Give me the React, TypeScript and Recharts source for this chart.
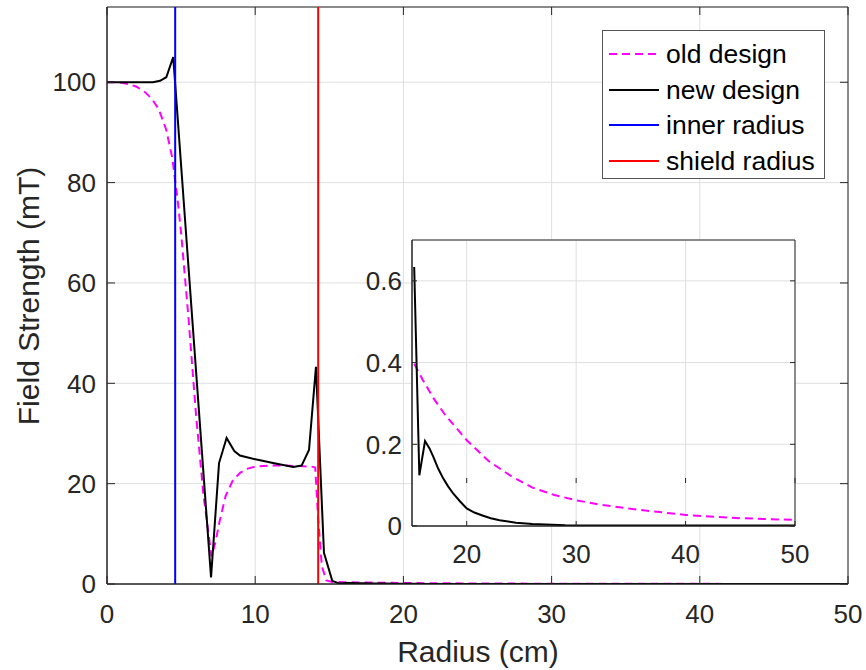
import React from 'react';
import { LineChart, Line, XAxis, YAxis, CartesianGrid, ReferenceArea } from 'recharts';

const FONT = '"Liberation Sans", Arial, Helvetica, sans-serif';
const TXT = '#262626';
const AX = '#262626';
const GRID = '#dfdfdf';

// old design (dashed magenta)
const oldX = [0, 0.5, 1, 1.5, 2, 2.5, 3, 3.5, 4, 4.4, 4.75, 5, 5.5, 6, 6.5, 7.05, 7.3, 7.6, 8, 8.5, 9, 9.5, 10, 11, 12, 13, 13.8, 14.05, 14.25, 14.5, 14.8, 15.2, 16, 17, 18, 20, 22, 24, 26, 28, 30, 32, 35, 40, 45, 50];
const oldY = [100, 100, 99.9, 99.6, 99.1, 98.2, 96.8, 94.6, 90.5, 85, 77, 70, 53, 34, 18, 5.5, 8.1, 12.5, 17.5, 20.7, 22.2, 23, 23.4, 23.6, 23.6, 23.5, 23.4, 23.2, 13, 3.5, 0.7, 0.397, 0.357, 0.311, 0.273, 0.21, 0.159, 0.123, 0.094, 0.076, 0.063, 0.053, 0.042, 0.027, 0.019, 0.015];

// new design (solid black)
const newX = [0, 0.5, 1, 1.5, 2, 2.5, 3.1, 3.58, 4, 4.47, 7.02, 7.56, 8.07, 8.59, 8.97, 10.1, 11.2, 12.57, 13.13, 13.63, 14.1, 14.64, 15.2, 15.67, 16.19, 16.6, 16.95, 17.4, 17.86, 18.3, 18.78, 19.4, 20, 20.7, 21.5, 22.2, 23, 24.5, 26, 29, 35, 50];
const newY = [100, 100, 100, 100, 100, 100, 100, 100.3, 101, 105, 1.3, 24.1, 29.1, 26.5, 25.6, 24.8, 24.1, 23.3, 23.6, 26.7, 43.3, 6.2, 0.634, 0.124, 0.208, 0.19, 0.169, 0.14, 0.116, 0.097, 0.079, 0.06, 0.043, 0.033, 0.025, 0.019, 0.014, 0.008, 0.005, 0.002, 0.001, 0.001];

const innerRadius = 4.6;
const shieldRadius = 14.25;
const yMax = 115;
const insetFrom = 15;

const xTicks = [0, 10, 20, 30, 40, 50];
const yTicks = [0, 20, 40, 60, 80, 100];
const insetXTicks = [20, 30, 40, 50];
const insetYTicks = [0, 0.2, 0.4, 0.6];

const legendLabels = ['old design', 'new design', 'inner radius', 'shield radius'];
const legendColors = ['#ff00ff', '#000000', '#0000ff', '#ff0000'];

const zip = (xs: number[], ys: number[]) => xs.map((x, i) => ({ x, y: ys[i] }));
const oldData = zip(oldX, oldY);
const newData = zip(newX, newY);
const innerData = [{ x: innerRadius, y: 0 }, { x: innerRadius, y: yMax }];
const shieldData = [{ x: shieldRadius, y: 0 }, { x: shieldRadius, y: yMax }];
// the inset only plots the samples beyond the shield
const oldTail = oldData.filter((d) => d.x >= insetFrom);
const newTail = newData.filter((d) => d.x >= insetFrom);

// MATLAB-style ticks pointing inward, on both sides of the box
const xTick = (margin: number, len: number, topY: number) => (props: any) => {
  const { x, y, payload } = props;
  const axisY = y - margin;
  return (
    <g>
      <line x1={x} x2={x} y1={axisY} y2={axisY - len} stroke={AX} />
      <line x1={x} x2={x} y1={topY} y2={topY + len} stroke={AX} />
      <text x={x} y={y} dy="0.71em" textAnchor="middle" fill={TXT} fontSize={26} fontFamily={FONT}>
        {payload.value}
      </text>
    </g>
  );
};

const yTick = (margin: number, len: number, rightX: number) => (props: any) => {
  const { x, y, payload } = props;
  const axisX = x + margin;
  return (
    <g>
      <line x1={axisX} x2={axisX + len} y1={y} y2={y} stroke={AX} />
      <line x1={rightX} x2={rightX - len} y1={y} y2={y} stroke={AX} />
      <text x={x} y={y} dy="0.355em" textAnchor="end" fill={TXT} fontSize={26} fontFamily={FONT}>
        {payload.value}
      </text>
    </g>
  );
};

const Legend = () => (
  <div
    style={{
      position: 'absolute', left: 602, top: 30, width: 223, height: 149, boxSizing: 'border-box',
      border: '1px solid #555', background: '#fff', fontFamily: FONT, fontSize: 26.5, color: '#000',
    }}
  >
    {legendLabels.map((label, i) => (
      <div key={label} style={{ position: 'absolute', left: 0, top: 5 + i * 35.6, height: 36, width: 221 }}>
        <svg width={60} height={36} style={{ position: 'absolute', left: 0, top: 0 }}>
          <line x1={6} x2={56} y1={18} y2={18} stroke={legendColors[i]} strokeWidth={2}
            strokeDasharray={i === 0 ? '8 5' : undefined} />
        </svg>
        <span style={{ position: 'absolute', left: 63, top: 0, lineHeight: '36px', whiteSpace: 'nowrap' }}>{label}</span>
      </div>
    ))}
  </div>
);

const App = () => {
  return (
    <div style={{ position: 'absolute', left: 0, top: 0, width: 866, height: 670, background: '#fff' }}>
      <LineChart width={866} height={670} margin={{ top: 7, right: 18, bottom: 0, left: 0 }}>
        <CartesianGrid stroke={GRID} />
        <XAxis type="number" dataKey="x" domain={[0, 50]} ticks={xTicks} interval={0} height={86}
          tickSize={0} tickMargin={21} tickLine={false} axisLine={{ stroke: AX }} tick={xTick(21, 8, 7)} allowDataOverflow />
        <YAxis type="number" dataKey="y" domain={[0, yMax]} ticks={yTicks} interval={0} width={107}
          tickSize={0} tickMargin={11} tickLine={false} axisLine={{ stroke: AX }} tick={yTick(11, 8, 848)} allowDataOverflow />
        <Line data={oldData} dataKey="y" type="linear" stroke="#ff00ff" strokeWidth={2} strokeDasharray="8 5" dot={false} isAnimationActive={false} />
        <Line data={newData} dataKey="y" type="linear" stroke="#000000" strokeWidth={2} dot={false} isAnimationActive={false} />
        <Line data={innerData} dataKey="y" type="linear" stroke="#0000ff" strokeWidth={2} dot={false} isAnimationActive={false} />
        <Line data={shieldData} dataKey="y" type="linear" stroke="#ff0000" strokeWidth={2} dot={false} isAnimationActive={false} />
        <ReferenceArea x1={0} x2={50} y1={0} y2={yMax} fill="none" fillOpacity={0} stroke={AX} strokeWidth={1} />
      </LineChart>

      <svg width={866} height={670} style={{ position: 'absolute', left: 0, top: 0, pointerEvents: 'none' }}>
        <text x={478} y={662} textAnchor="middle" fill={TXT} fontSize={30} fontFamily={FONT}>Radius (cm)</text>
        <text transform="translate(39, 296) rotate(-90)" textAnchor="middle" fill={TXT} fontSize={30} fontFamily={FONT}>
          Field Strength (mT)
        </text>
      </svg>

      <Legend />

      <div style={{ position: 'absolute', left: 352, top: 238 }}>
        <LineChart width={475} height={343} margin={{ top: 2, right: 32, bottom: 15, left: 0 }}>
          <CartesianGrid stroke={GRID} fill="#fff" />
          <XAxis type="number" dataKey="x" domain={[15, 50]} ticks={insetXTicks} interval={0} height={40}
            tickSize={0} tickMargin={19} tickLine={false} axisLine={{ stroke: AX }} tick={xTick(19, 5, 240)} allowDataOverflow />
          <YAxis type="number" dataKey="y" domain={[0, 0.7]} ticks={insetYTicks} interval={0} width={60}
            tickSize={0} tickMargin={10} tickLine={false} axisLine={{ stroke: AX }} tick={yTick(10, 5, 443)} allowDataOverflow />
          <Line data={oldTail} dataKey="y" type="linear" stroke="#ff00ff" strokeWidth={2} strokeDasharray="8 5" dot={false} isAnimationActive={false} />
          <Line data={newTail} dataKey="y" type="linear" stroke="#000000" strokeWidth={2} dot={false} isAnimationActive={false} />
          <ReferenceArea x1={15} x2={50} y1={0} y2={0.7} fill="none" fillOpacity={0} stroke={AX} strokeWidth={1} />
        </LineChart>
      </div>
    </div>
  );
};

export default App;
